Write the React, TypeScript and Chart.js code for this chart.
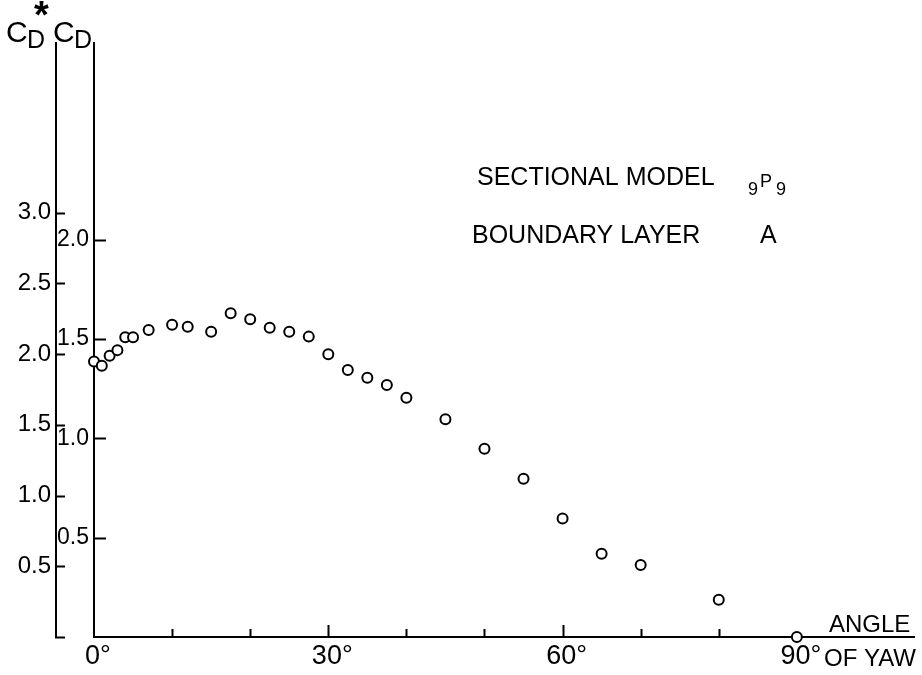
import React, { useEffect, useRef } from "react";
import { Chart, registerables } from "chart.js";

Chart.register(...registerables);

// Angle of yaw (degrees) and measured drag coefficient C_D
const yawAngles = [0, 1, 2, 3, 4, 5, 7, 10, 12, 15, 17.5, 20, 22.5, 25, 27.5, 30, 32.5, 35, 37.5, 40, 45, 50, 55, 60, 65, 70, 80, 90];
const dragCoefficients = [1.387, 1.365, 1.416, 1.444, 1.509, 1.509, 1.545, 1.572, 1.562, 1.537, 1.63, 1.599, 1.557, 1.537, 1.512, 1.423, 1.344, 1.305, 1.268, 1.204, 1.096, 0.947, 0.796, 0.596, 0.419, 0.362, 0.187, 0.0];

const cdTickValues = [0.5, 1.0, 1.5, 2.0];
const cdStarTickValues = [0.5, 1.0, 1.5, 2.0, 2.5, 3.0];
const angleLabelValues = [0, 30, 60, 90];
const angleMinorTicks = [10, 20, 40, 50, 70, 80];
const angleMajorTicks = [30, 60];

const FONT = '"Liberation Sans", Arial, sans-serif';

export default function App() {
  const ref = useRef<HTMLCanvasElement>(null);

  useEffect(() => {
    document.body.style.margin = "0";
    const canvas = ref.current;
    if (!canvas) return;

    const overlay = {
      id: "overlay",
      afterDraw(chart: any) {
        const ctx = chart.ctx as CanvasRenderingContext2D;
        const { x, y, y2 } = chart.scales;
        const area = chart.chartArea;
        ctx.save();
        ctx.strokeStyle = "#000";
        ctx.lineWidth = 2;
        ctx.beginPath();
        // inward ticks on C_D axis
        for (const v of cdTickValues) {
          const py = Math.round(y.getPixelForValue(v)) + 0.5;
          ctx.moveTo(area.left, py);
          ctx.lineTo(area.left + 12, py);
        }
        // inward ticks on C_D* axis (including zero)
        for (const v of [0, ...cdStarTickValues]) {
          const py = Math.round(y2.getPixelForValue(v)) + 0.5;
          ctx.moveTo(y2.right - 1, py);
          ctx.lineTo(y2.right + 9, py);
        }
        // x-axis ticks
        for (const v of angleMinorTicks) {
          const px = Math.round(x.getPixelForValue(v)) + 0.5;
          ctx.moveTo(px, area.bottom);
          ctx.lineTo(px, area.bottom - 8);
        }
        for (const v of angleMajorTicks) {
          const px = Math.round(x.getPixelForValue(v)) + 0.5;
          ctx.moveTo(px, area.bottom);
          ctx.lineTo(px, area.bottom - 12);
        }
        ctx.stroke();

        ctx.fillStyle = "#000";
        ctx.textAlign = "left";
        ctx.textBaseline = "alphabetic";
        // axis titles
        ctx.font = `30px ${FONT}`;
        ctx.fillText("C", 6, 42);
        ctx.fillText("C", 53, 42);
        ctx.font = `25px ${FONT}`;
        ctx.fillText("D", 27, 48);
        ctx.fillText("D", 74, 48);
        ctx.font = `bold 38px ${FONT}`;
        ctx.fillText("*", 34, 28);

        // annotation
        ctx.font = `25px ${FONT}`;
        ctx.fillText("SECTIONAL MODEL", 477, 185);
        ctx.fillText("BOUNDARY LAYER", 472, 243);
        ctx.fillText("A", 760, 243);
        ctx.font = `18px ${FONT}`;
        ctx.fillText("9", 748, 195);
        ctx.fillText("P", 760, 187);
        ctx.fillText("9", 776, 195);

        // x-axis title
        ctx.font = `24px ${FONT}`;
        ctx.fillText("ANGLE", 829, 632);
        ctx.fillText("OF YAW", 824, 666);
        ctx.restore();
      },
    };

    const axisBorder = { display: true, color: "#000", width: 2 };
    const noGrid = { display: false, drawTicks: false };

    const chart = new Chart(canvas, {
      type: "scatter",
      data: {
        datasets: [
          {
            data: yawAngles.map((a, i) => ({ x: a, y: dragCoefficients[i] })),
            xAxisID: "x",
            yAxisID: "y",
            showLine: false,
            pointStyle: "circle",
            pointRadius: 5,
            pointBorderWidth: 2,
            pointBorderColor: "#000",
            pointBackgroundColor: "#fff",
            clip: false,
          } as any,
        ],
      },
      options: {
        responsive: false,
        animation: false,
        events: [],
        layout: { padding: { top: 43, right: 8, left: 0, bottom: 0 } },
        plugins: { legend: { display: false }, tooltip: { enabled: false }, title: { display: false } },
        scales: {
          x: {
            type: "linear",
            position: "bottom",
            min: 0,
            max: 105,
            afterBuildTicks: (s: any) => {
              s.ticks = angleLabelValues.map((v) => ({ value: v }));
            },
            afterFit: (s: any) => {
              s.height = 38;
            },
            grid: noGrid,
            border: axisBorder,
            ticks: {
              color: "#000",
              font: { family: FONT, size: 27 },
              padding: 3,
              labelOffset: 4,
              maxRotation: 0,
              autoSkip: false,
              callback: (v: any) => `${v}°`,
            },
          },
          y: {
            type: "linear",
            position: "left",
            weight: 0,
            min: 0,
            max: 2.99,
            afterBuildTicks: (s: any) => {
              s.ticks = cdTickValues.map((v) => ({ value: v }));
            },
            afterFit: (s: any) => {
              s.width = 38;
            },
            grid: noGrid,
            border: axisBorder,
            ticks: {
              color: "#000",
              font: { family: FONT, size: 23 },
              padding: 5,
              callback: (v: any) => Number(v).toFixed(1),
            },
          },
          y2: {
            type: "linear",
            position: "left",
            weight: 1,
            min: 0,
            max: 4.2,
            afterBuildTicks: (s: any) => {
              s.ticks = cdStarTickValues.map((v) => ({ value: v }));
            },
            afterFit: (s: any) => {
              s.width = 56;
            },
            grid: noGrid,
            border: axisBorder,
            ticks: {
              color: "#000",
              font: { family: FONT, size: 24 },
              padding: 5,
              callback: (v: any) => Number(v).toFixed(1),
            },
          },
        },
      } as any,
      plugins: [overlay],
    });

    return () => chart.destroy();
  }, []);

  return (
    <div style={{ width: 922, height: 675, background: "#fff" }}>
      <canvas ref={ref} width={922} height={675} style={{ display: "block" }} />
    </div>
  );
}
